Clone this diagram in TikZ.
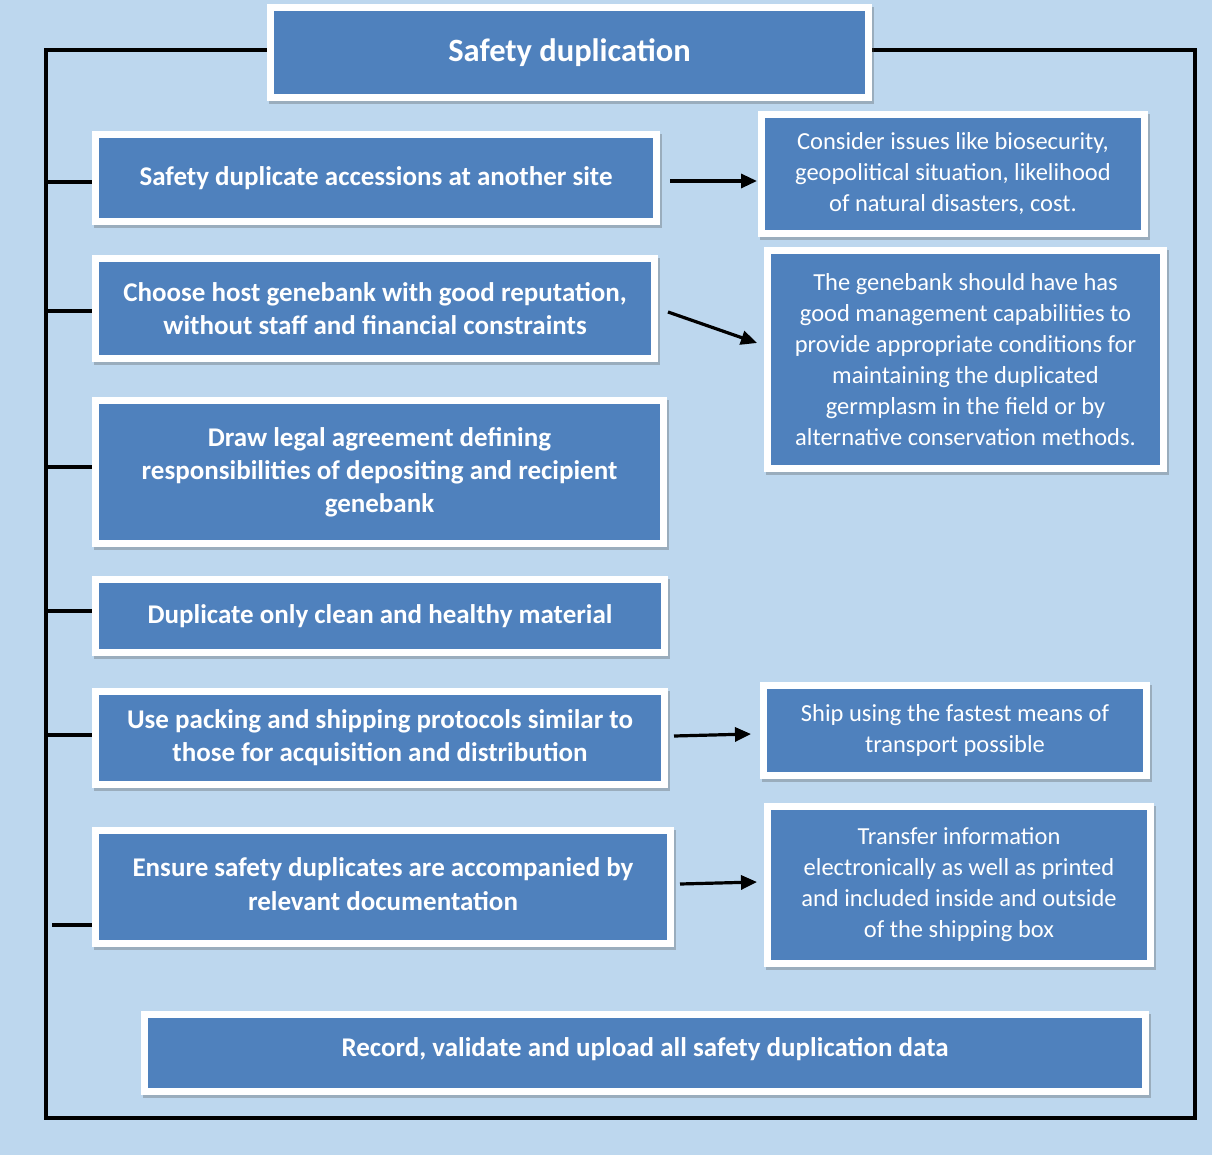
\documentclass[tikz,border=0pt]{standalone}
\usepackage{fontspec}
\setmainfont{Carlito}
\usetikzlibrary{shadows,arrows.meta,calc}
\definecolor{bgblue}{HTML}{BDD7EE}
\definecolor{boxblue}{HTML}{4F81BD}
\pgfdeclarelayer{background}
\pgfsetlayers{background,main}

\tikzset{
  card/.style={draw=white, line width=7pt, fill=boxblue, text=white,
    align=center, inner sep=0pt,
    drop shadow={shadow xshift=2pt, shadow yshift=-3pt, opacity=0.3,
      fill=black!70, draw=black!70, line width=7pt}},
  stepfont/.style={font=\fontsize{27}{33}\selectfont\bfseries},
  titlefont/.style={font=\fontsize{32.5}{36}\selectfont\bfseries},
  notefont/.style={font=\fontsize{24.5}{31}\selectfont},
  frameline/.style={line width=3.6pt, black},
  arr/.style={line width=3.2pt, black, -{Triangle[length=16pt,width=14pt]}},
}

\begin{document}
\begin{tikzpicture}[x=1pt, y=-1pt]
  \path[use as bounding box] (0,0) rectangle (1212,1155);

  % title
  \node[card, titlefont, minimum width=598pt, minimum height=90pt] (title) at (569.5,52.5)
    {Safety duplication};

  % steps on the left
  \node[card, stepfont, minimum width=561pt, minimum height=87pt] (b1) at (376,178)
    {Safety duplicate accessions at another site};
  \node[card, stepfont, minimum width=559pt, minimum height=100pt] (b2) at (375,308.5)
    {Choose host genebank with good reputation,\\without staff and financial constraints};
  \node[card, stepfont, minimum width=568pt, minimum height=143pt] (b3) at (379.5,472)
    {Draw legal agreement defining\\responsibilities of depositing and recipient\\genebank};
  \node[card, stepfont, minimum width=569pt, minimum height=73pt] (b4) at (380,616)
    {Duplicate only clean and healthy material};
  \node[card, stepfont, minimum width=569pt, minimum height=93pt] (b5) at (380,738)
    {Use packing and shipping protocols similar to\\those for acquisition and distribution};
  \node[card, stepfont, minimum width=575pt, minimum height=113pt] (b6) at (383,887)
    {\raisebox{19pt}{\begin{tabular}{@{}c@{}}Ensure safety duplicates are accompanied by\\[1pt]relevant documentation\end{tabular}}};
  \node[card, stepfont, minimum width=1001pt, minimum height=77pt] (b7) at (645,1053)
    {\raisebox{12pt}{Record, validate and upload all safety duplication data}};

  % notes on the right
  \node[card, notefont, minimum width=383pt, minimum height=119pt] (r1) at (953,174)
    {Consider issues like biosecurity,\\geopolitical situation, likelihood\\of natural disasters, cost.};
  \node[card, notefont, minimum width=396pt, minimum height=218pt] (r2) at (965.5,359.5)
    {The genebank should have has\\good management capabilities to\\provide appropriate conditions for\\maintaining the duplicated\\germplasm in the field or by\\alternative conservation methods.};
  \node[card, notefont, minimum width=383pt, minimum height=90pt] (r5) at (955,730.5)
    {Ship using the fastest means of\\transport possible};
  \node[card, notefont, minimum width=383pt, minimum height=157pt] (r6) at (959,885)
    {Transfer information\\electronically as well as printed\\and included inside and outside\\of the shipping box};

  % frame corners and stub origins
  \coordinate (tl) at (46,50);
  \coordinate (bl) at (46,1118);
  \coordinate (br) at (1195,1118);
  \coordinate (tr) at (1195,50);
  \coordinate (s1) at (46,182);
  \coordinate (s2) at (46,311);
  \coordinate (s3) at (46,467);
  \coordinate (s4) at (46,611);
  \coordinate (s5) at (46,735);
  \coordinate (s6) at (52,925);

  \begin{pgfonlayer}{background}
    \fill[bgblue] (0,0) rectangle (1212,1155);
    \draw[frameline] (title.west |- tl) -- (tl) -- (bl) -- (br) -- (tr) -- (title.east |- tr);
    \foreach \s/\b in {s1/b1, s2/b2, s3/b3, s4/b4, s5/b5, s6/b6}
      \draw[frameline] (\s) -- (\s -| \b.west);
  \end{pgfonlayer}

  % arrows to the notes
  \draw[arr] ([xshift=10pt,yshift=-3pt]b1.east) -- ([xshift=-1pt,yshift=-7pt]r1.west);
  \draw[arr] ([xshift=10pt,yshift=-3.5pt]b2.east) -- ([xshift=-7pt,yshift=16.5pt]r2.west);
  \draw[arr] ([xshift=6pt,yshift=2pt]b5.east) -- ([xshift=-9pt,yshift=-3.5pt]r5.west);
  \draw[arr] ([xshift=6pt,yshift=3pt]b6.east) -- ([xshift=-7pt,yshift=3pt]r6.west);
\end{tikzpicture}
\end{document}
